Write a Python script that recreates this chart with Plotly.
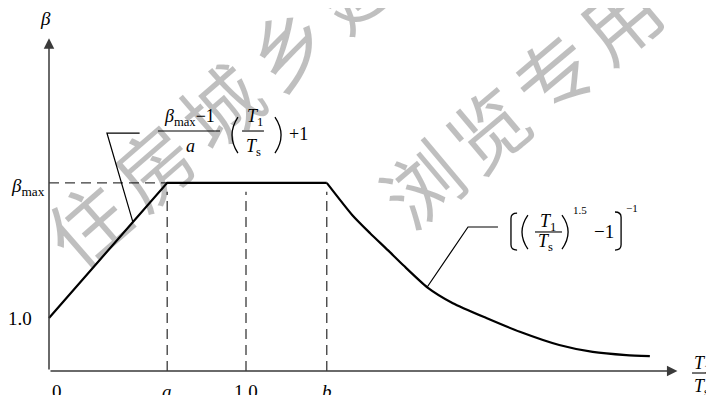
import plotly.graph_objects as go

# Response spectrum: x = T1/Ts, y = beta
x_ticks = [0.0, 0.6, 1.0, 1.41]
x_tick_labels = ["0", "<i>a</i>", "1.0", "<i>b</i>"]
y_ticks = [1.0, 3.55]
y_tick_labels = ["1.0", "<i>β</i><sub>max</sub>"]

rise_x = [0.0, 0.6, 1.41]
rise_y = [1.0, 3.55, 3.55]

decay_x = [1.41, 1.54, 1.63, 1.72, 1.80, 1.92, 2.05, 2.22, 2.39, 2.59, 2.76, 2.93, 3.05]
decay_y = [3.55, 2.94, 2.60, 2.28, 1.99, 1.58, 1.28, 1.00, 0.74, 0.49, 0.36, 0.30, 0.28]

guide_x = [0.6, 1.0, 1.41]  # dashed verticals at a, 1.0, b
guide_top = 3.38

# leader lines from the curve to the two formulas
leader_rise_x = [0.46, 0.294, 0.426]
leader_rise_y = [4.49, 4.49, 2.81]
leader_decay_x = [2.279, 2.127, 1.919]
leader_decay_y = [2.717, 2.717, 1.58]

x_axis_end = 3.19
y_axis_end = 6.28

SERIF = "Liberation Serif"
INK = "black"
AXIS = "#3a3a3a"
PAGE_OFFSET = 8  # the html body margin shifts the figure by this many pixels

fig = go.Figure()

# dashed guides
fig.add_trace(go.Scatter(
    x=[0, rise_x[1]], y=[rise_y[1], rise_y[1]],
    mode="lines", line=dict(color=AXIS, width=1.3, dash="10px,6px"),
))
gx, gy = [], []
for g in guide_x:
    gx += [g, g, None]
    gy += [0, guide_top, None]
fig.add_trace(go.Scatter(
    x=gx, y=gy, mode="lines",
    line=dict(color=AXIS, width=1.3, dash="10px,6px"),
))

# the spectrum
fig.add_trace(go.Scatter(
    x=rise_x, y=rise_y, mode="lines", line=dict(color=INK, width=2.2),
))
fig.add_trace(go.Scatter(
    x=decay_x, y=decay_y, mode="lines",
    line=dict(color=INK, width=2.2, shape="spline", smoothing=0.6),
))

# leaders
for lx, ly in [(leader_rise_x, leader_rise_y), (leader_decay_x, leader_decay_y)]:
    fig.add_trace(go.Scatter(
        x=lx, y=ly, mode="lines", line=dict(color=INK, width=1.2),
    ))

# axes with arrows
for tip, tail in [((x_axis_end, 0), (0, 0)), ((0, y_axis_end), (0, 0))]:
    fig.add_annotation(
        x=tip[0], y=tip[1], ax=tail[0], ay=tail[1],
        xref="x", yref="y", axref="x", ayref="y",
        text="", showarrow=True, arrowhead=2, arrowsize=1.4,
        arrowwidth=1.5, arrowcolor=AXIS,
    )


def label(x, y, text, size=18, xanchor="center", yanchor="middle"):
    fig.add_annotation(
        x=x, y=y, text=text, showarrow=False, xref="x", yref="y",
        font=dict(family=SERIF, size=size, color=INK),
        xanchor=xanchor, yanchor=yanchor,
    )


def bar(x0, x1, y):
    fig.add_shape(type="line", x0=x0, x1=x1, y0=y, y1=y,
                  line=dict(color=INK, width=1.1))


def paren(x_end, x_ext, y0, y1):
    # thin round bracket drawn as a quadratic curve
    ctrl = 2 * x_ext - x_end
    fig.add_shape(type="path", path=f"M {x_end},{y0} Q {ctrl},{(y0 + y1) / 2} {x_end},{y1}",
                  line=dict(color=INK, width=1.3))


def square(x_v, x_end, y0, y1, r=0.1):
    # tall square bracket with rounded hooks
    fig.add_shape(
        type="path",
        path=(f"M {x_end},{y0} Q {x_v},{y0} {x_v},{y0 - r} "
              f"L {x_v},{y1 + r} Q {x_v},{y1} {x_end},{y1}"),
        line=dict(color=INK, width=1.3),
    )


# tick labels
x_shift = [0.04, 0, 0, 0]
for v, t, s in zip(x_ticks, x_tick_labels, x_shift):
    label(v + s, -0.15, t, size=19, yanchor="top")
label(-0.076, y_ticks[0], y_tick_labels[0], size=19, xanchor="right")
label(-0.012, y_ticks[1] - 0.08, y_tick_labels[1], size=19, xanchor="right")

# axis titles
label(-0.02, 6.66, "<i>β</i>", size=19)
label(3.262, 0.132, "<i>T</i><sub>1</sub>", size=18, xanchor="left")
bar(3.264, 3.40, -0.038)
label(3.262, -0.32, "<i>T</i><sub>s</sub>", size=18, xanchor="left")

# formula for the rising branch
label(0.711, 4.774, "<i>β</i><sub>max</sub>−1", size=18)
bar(0.553, 0.868, 4.528)
label(0.716, 4.245, "<i>a</i>", size=18)
paren(0.959, 0.929, 4.79, 4.11)
label(1.046, 4.774, "<i>T</i><sub>1</sub>", size=18)
bar(0.980, 1.091, 4.528)
label(1.036, 4.226, "<i>T</i><sub>s</sub>", size=18)
paren(1.147, 1.178, 4.79, 4.11)
label(1.264, 4.472, "+1", size=18)

# formula for the decaying branch
square(2.345, 2.376, 2.98, 2.28)
paren(2.431, 2.401, 2.94, 2.30)
label(2.533, 2.811, "<i>T</i><sub>1</sub>", size=18)
bar(2.467, 2.604, 2.623)
label(2.518, 2.434, "<i>T</i><sub>s</sub>", size=18)
paren(2.604, 2.635, 2.94, 2.30)
label(2.695, 3.04, "1.5", size=11)
label(2.817, 2.623, "−1", size=19)
square(2.904, 2.873, 3.0, 2.28)
label(2.959, 3.075, "−1", size=11)

# watermark, positioned in page pixels
WM = "rgba(0,0,0,0.25)"
for chars, (px, py), (sx, sy), ang in [
    ("住房城乡建设部", (85, 222), (67, -59), -41),
    ("浏览专用", (420, 182), (66, -55), -40),
]:
    for i, ch in enumerate(chars):
        fig.add_annotation(
            x=(px + i * sx - PAGE_OFFSET) / 714,
            y=1 - (py + i * sy - PAGE_OFFSET) / 395,
            xref="paper", yref="paper", text=ch, showarrow=False,
            textangle=ang,
            font=dict(family="Noto Sans CJK SC", size=78, color=WM),
            xanchor="center", yanchor="middle",
        )

# axis ranges chosen so x=0 sits at page x 49 and y=0 at page y 371
fig.update_layout(
    width=714, height=395,
    margin=dict(l=0, r=0, t=0, b=0),
    paper_bgcolor="white", plot_bgcolor="white",
    showlegend=False,
    xaxis=dict(range=[-0.2081, 3.4162], visible=False, fixedrange=True),
    yaxis=dict(range=[-0.6038, 6.849], visible=False, fixedrange=True),
)

fig.write_html("out.html")
